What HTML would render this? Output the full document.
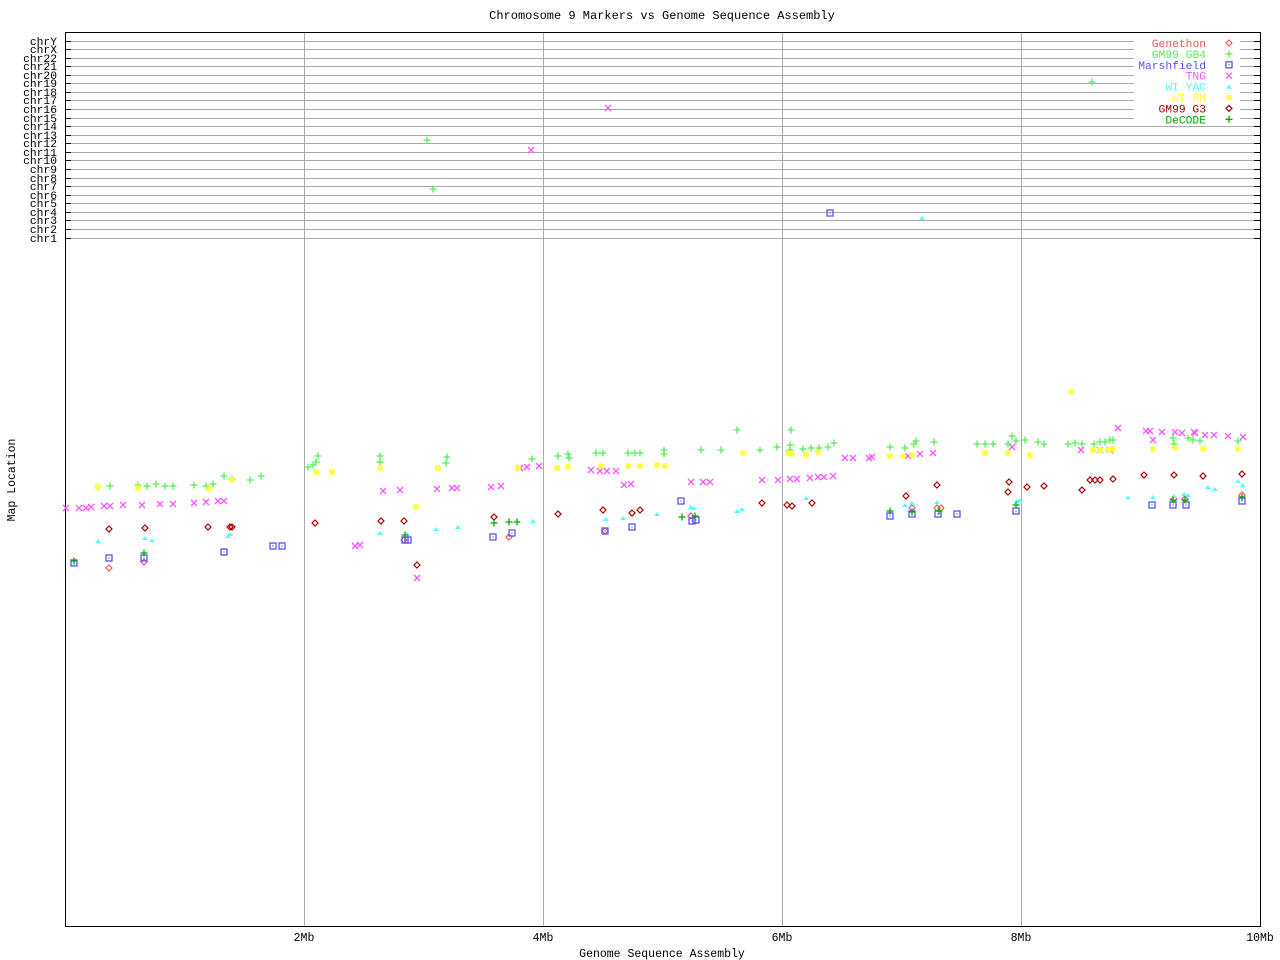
<!DOCTYPE html>
<html><head><meta charset="utf-8"><style>
body{margin:0;background:#fff;}
svg{display:block;font-family:"Liberation Mono",monospace;}
</style></head><body>
<svg id="s" width="1280" height="960" xmlns="http://www.w3.org/2000/svg">
<rect width="1280" height="960" fill="#fff"/>
<text x="662" y="19" font-size="12" text-anchor="middle">Chromosome 9 Markers vs Genome Sequence Assembly</text>
<g id="grid"></g>
<rect x="65.5" y="32.5" width="1195" height="894" fill="none" stroke="#000"/>
<g font-size="11.5" text-anchor="middle">
<text x="304" y="941">2Mb</text><text x="543" y="941">4Mb</text><text x="782" y="941">6Mb</text><text x="1021" y="941">8Mb</text><text x="1260" y="941">10Mb</text>
<text x="662" y="957">Genome Sequence Assembly</text>
<text transform="translate(15,480) rotate(-90)">Map Location</text>
</g>
<g id="lab" font-size="11.3" text-anchor="end"></g>
<rect x="1134" y="37" width="106" height="88" fill="#fff"/>
<g id="leg" font-size="11.3" text-anchor="end"></g>
<g id="pts"></g>
</svg>
<script>
var NS="http://www.w3.org/2000/svg";
function el(p,t,a,txt){var e=document.createElementNS(NS,t);for(var k in a)e.setAttribute(k,a[k]);if(txt)e.textContent=txt;document.getElementById(p).appendChild(e);return e;}
var chrs=["chrY","chrX","chr22","chr21","chr20","chr19","chr18","chr17","chr16","chr15","chr14","chr13","chr12","chr11","chr10","chr9","chr8","chr7","chr6","chr5","chr4","chr3","chr2","chr1"];
for(var i=0;i<24;i++){var y=Math.round(40.5+i*8.57)+0.5;
el("grid","line",{x1:65,x2:1260,y1:y,y2:y,stroke:"#aaa"});
el("grid","line",{x1:65,x2:71,y1:y,y2:y,stroke:"#000"});
el("grid","line",{x1:1254,x2:1260,y1:y,y2:y,stroke:"#000"});
el("lab","text",{x:57,y:y+3.5},chrs[i]);}
[304,543,782,1021].forEach(function(x){el("grid","line",{x1:x+.5,x2:x+.5,y1:32,y2:926,stroke:"#aaa"});});
function mk(g,t,x,y,c){
if(t=="p"){el(g,"path",{d:"M"+(x-3.5)+" "+y+"h7M"+x+" "+(y-3.5)+"v7",stroke:c,"stroke-width":1.3,fill:"none"});}
else if(t=="x"){el(g,"path",{d:"M"+(x-3)+" "+(y-3)+"l6 6M"+(x-3)+" "+(y+3)+"l6 -6",stroke:c,"stroke-width":1.3,fill:"none"});}
else if(t=="s"){el(g,"rect",{x:x-3,y:y-3,width:6,height:6,stroke:c,"stroke-width":1.3,fill:"none"});el(g,"rect",{x:x-.6,y:y-.6,width:1.2,height:1.2,fill:c});}
else if(t=="t"){el(g,"path",{d:"M"+(x-3)+" "+(y+2)+"L"+x+" "+(y-2)+"L"+(x+3)+" "+(y+2)+"Z",fill:c});}
else if(t=="a"){el(g,"path",{d:"M"+(x-3)+" "+y+"h6M"+x+" "+(y-3)+"v6M"+(x-2.5)+" "+(y-2.5)+"l5 5M"+(x-2.5)+" "+(y+2.5)+"l5 -5",stroke:c,"stroke-width":1.4,fill:"none"});}
else if(t=="d"){el(g,"path",{d:"M"+x+" "+(y-3)+"L"+(x+3)+" "+y+"L"+x+" "+(y+3)+"L"+(x-3)+" "+y+"Z",stroke:c,"stroke-width":1.2,fill:"none"});}
}
var S=[
["Genethon","#ff5555","d","109,568 144,562 404,540 509,537 691,516 912,508 937,508 941,508 1174,499 1185,499 1242,495 605,531"],
["GM99 GB4","#55ee55","p","98,487 110,486 138,485 147,486 156,484 165,486 173,486 194,485 206,486 213,484 224,476 232,479 250,480 261,476 308,467 313,465 316,462 318,456 380,456 380,462 447,457 446,463 532,459 558,456 568,454 569,458 596,453 603,453 628,453 635,453 640,453 664,450 664,454 701,450 721,450 737,430 760,450 777,447 790,445 791,430 790,450 803,449 811,448 819,448 828,447 834,443 890,447 905,448 914,444 916,441 934,442 977,444 985,444 993,444 1008,444 1012,436 1016,441 1025,440 1038,442 1044,444 1068,444 1075,443 1082,444 1094,444 1100,442 1105,442 1110,440 1113,440 1173,438 1174,444 1188,438 1193,440 1200,441 1238,441 1092,82 427,140 433,189"],
["Marshfield","#5555ff","s","74,563 109,558 144,558 224,552 273,546 282,546 405,540 408,540 493,537 512,533 605,531 632,527 681,501 692,521 696,520 890,516 912,514 938,514 957,514 1016,511 1152,505 1173,505 1186,505 1242,501 830,213"],
["TNG","#ff55ff","x","66,508 79,508 86,508 91,507 104,506 110,506 123,505 142,505 160,504 173,504 194,503 206,502 218,501 224,501 383,491 400,490 437,489 452,488 457,488 491,487 501,486 520,468 527,467 539,466 355,546 360,545 417,578 531,150 608,108 591,470 600,471 607,471 616,471 624,485 631,484 691,482 703,482 710,482 762,480 778,480 790,479 797,479 810,478 818,477 824,477 833,476 845,458 853,458 869,458 872,457 908,456 920,454 933,453 1012,447 1110,450 1118,428 1146,431 1150,431 1162,432 1175,432 1182,433 1195,433 1205,435 1214,435 1228,436 1243,437 1100,450 1081,450 1153,440 1194,432"],
["WI YAC","#55ffff","t","98,541 145,538 152,540 230,534 228,536 380,533 407,534 436,529 458,527 533,521 606,519 623,518 657,514 691,507 694,508 737,511 742,509 806,498 922,218 905,505 912,503 937,502 1017,501 1128,497 1153,497 1174,496 1184,494 1188,495 1208,487 1215,489 1238,481 1243,485 1020,500"],
["WI RH","#ffff33","a","98,487 138,488 209,489 232,480 316,472 332,472 380,468 416,507 438,468 518,468 557,468 568,467 601,466 628,466 640,466 657,465 665,466 743,453 788,453 792,454 806,455 818,452 890,456 903,456 912,455 985,453 1008,453 1030,455 1071,392 1093,450 1100,450 1108,450 1113,449 1153,449 1175,448 1203,449 1238,449"],
["GM99 G3","#aa0000","d","109,529 145,528 208,527 230,527 232,527 315,523 381,521 404,521 417,565 494,517 558,514 603,510 632,513 640,510 762,503 787,505 792,506 812,503 906,496 937,485 1009,482 1008,492 1027,487 1044,486 1082,490 1090,480 1095,480 1100,480 1113,479 1144,475 1174,475 1203,476 1242,474"],
["DeCODE","#00aa00","p","74,561 144,553 405,535 494,523 509,522 517,522 682,517 695,516 890,511 912,512 939,511 1016,505 1173,500 1185,500 1242,497"]
];
S.forEach(function(s,i){
var y=43+i*10.9;
el("leg","text",{x:1206,y:y+4,fill:s[1]},s[0]);
mk("leg",s[2],1229,y,s[1]);
s[3].split(" ").forEach(function(p){var q=p.split(",");mk("pts",s[2],+q[0],+q[1],s[1]);});
});
</script>
</body></html>
